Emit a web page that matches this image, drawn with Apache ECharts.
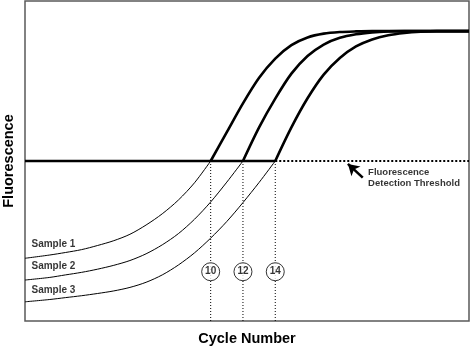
<!DOCTYPE html>
<html>
<head>
<meta charset="utf-8">
<script src="https://cdn.jsdelivr.net/npm/echarts@6/dist/echarts.min.js"></script>
<style>
  html, body { margin: 0; padding: 0; background: #fff; }
  #chart { width: 471px; height: 346px; }
</style>
</head>
<body>
<div id="chart"></div>
<script>
// Amplification curves: fluorescence versus PCR cycle for three samples.
// Each curve is split at the detection threshold: a thin early-phase part
// and a bold part above the threshold.

const threshold = 50;
const thresholdCycles = [10, 12, 14];      // cycle where each curve crosses the threshold
const cycleLabels = ['10', '12', '14'];
const sampleNames = ['Sample 1', 'Sample 2', 'Sample 3'];

// Sample 1
const s1LowCycles = [-1.5, 0, 1, 2, 3, 4, 5, 6, 7, 8, 9, 10];
const s1LowValues = [19.6, 20.6, 21.4, 22.3, 23.6, 25.1, 27.1, 30.0, 33.5, 37.8, 43.2, 50];
const s1HighCycles = [10, 11, 12, 13, 14, 15, 16, 17, 18, 19, 20, 22, 26];
const s1HighValues = [50, 59, 68, 76, 82, 86.2, 88.6, 89.8, 90.3, 90.5, 90.6, 90.6, 90.6];

// Sample 2
const s2LowCycles = [-1.5, 0, 1, 2, 3, 4, 5, 6, 7, 8, 9, 10, 11, 12];
const s2LowValues = [12.8, 13.6, 14.4, 15.2, 16.2, 17.4, 18.9, 21.0, 23.8, 27.3, 31.8, 37.2, 43.4, 50];
const s2HighCycles = [12, 13, 14, 15, 16, 17, 18, 19, 20, 21, 22, 24, 26];
const s2HighValues = [50, 60.5, 69.5, 77.3, 82.8, 86.4, 88.5, 89.6, 90.2, 90.5, 90.6, 90.6, 90.6];

// Sample 3
const s3LowCycles = [-1.5, 0, 1, 2, 3, 4, 5, 6, 7, 8, 9, 10, 11, 12, 13, 14];
const s3LowValues = [6.0, 6.7, 7.3, 7.9, 8.6, 9.4, 10.5, 12.1, 14.4, 17.5, 21.3, 25.9, 31.1, 37.0, 43.3, 50];
const s3HighCycles = [14, 15, 16, 17, 18, 19, 20, 21, 22, 23, 24, 26];
const s3HighValues = [50, 60.5, 69.6, 77, 82.2, 85.8, 88, 89.3, 90, 90.4, 90.6, 90.6];

const X_MIN = -1.5, X_MAX = 26, Y_MIN = 0, Y_MAX = 100;
const FONT = 'Liberation Sans, Arial, sans-serif';
const markerLevel = 15.4;                  // height of the cycle markers on the y scale
const sampleLabelAt = [[-1.1, 24], [-1.1, 17], [-1.1, 9.7]];

const zip = (xs, ys) => xs.map((x, i) => [x, ys[i]]);

function curve(xs, ys, width) {
  return {
    type: 'line', data: zip(xs, ys), smooth: 0.3,
    showSymbol: false, symbol: 'none', silent: true, z: 3,
    lineStyle: { color: '#000', width: width }
  };
}

const series = [
  curve(s1LowCycles, s1LowValues, 1), curve(s1HighCycles, s1HighValues, 2.6),
  curve(s2LowCycles, s2LowValues, 1), curve(s2HighCycles, s2HighValues, 2.6),
  curve(s3LowCycles, s3LowValues, 1), curve(s3HighCycles, s3HighValues, 2.6),
  // threshold: solid up to the last crossing, dotted beyond
  {
    type: 'line', data: [[X_MIN, threshold], [thresholdCycles[2], threshold]],
    symbol: 'none', silent: true, z: 4,
    lineStyle: { color: '#000', width: 2.6 }
  },
  {
    type: 'line', data: [[thresholdCycles[2], threshold], [X_MAX, threshold]],
    symbol: 'none', silent: true, z: 4,
    lineStyle: { color: '#000', width: 2, type: [2, 2] }
  }
];

// dotted drop lines from each crossing to the cycle axis
thresholdCycles.forEach(c => {
  series.push({
    type: 'line', data: [[c, threshold], [c, Y_MIN]],
    symbol: 'none', silent: true, z: 2,
    lineStyle: { color: '#000', width: 1, type: [1, 2] }
  });
});

// circled cycle numbers
series.push({
  type: 'scatter', z: 6, silent: true,
  data: thresholdCycles.map((c, i) => ({ value: [c, markerLevel], name: cycleLabels[i] })),
  symbol: 'circle', symbolSize: 18,
  itemStyle: { color: '#fff', borderColor: '#000', borderWidth: 1 },
  label: {
    show: true, position: 'inside', formatter: p => p.name,
    color: '#000', fontFamily: FONT, fontWeight: 'bold', fontSize: 10
  }
});

// sample names
series.push({
  type: 'scatter', z: 6, silent: true, symbolSize: 0,
  data: sampleNames.map((n, i) => ({ value: sampleLabelAt[i], name: n })),
  label: {
    show: true, position: 'right', distance: 0, formatter: p => p.name,
    color: '#000', fontFamily: FONT, fontWeight: 'bold', fontSize: 10
  }
});

// threshold annotation with arrow
series.push({
  type: 'line', data: [], silent: true,
  markLine: {
    silent: true, symbol: ['none', 'arrow'], symbolSize: [10, 11],
    label: { show: false },
    lineStyle: { color: '#000', width: 2.6, type: 'solid' },
    data: [[{ coord: [19.42, 44.8] }, { coord: [18.5, 49.1] }]]
  }
});
series.push({
  type: 'scatter', z: 6, silent: true, symbolSize: 0,
  data: [{ value: [19.75, 44.6], name: 'Fluorescence\nDetection Threshold' }],
  label: {
    show: true, position: 'right', distance: 0, formatter: p => p.name,
    align: 'left', verticalAlign: 'middle', lineHeight: 11,
    color: '#000', fontFamily: FONT, fontWeight: 'bold', fontSize: 9.5
  }
});

const chart = echarts.init(document.getElementById('chart'), null, { renderer: 'canvas' });
chart.setOption({
  animation: false,
  backgroundColor: '#fff',
  grid: {
    left: 25, right: 2, top: 1, bottom: 25,
    containLabel: false, outerBoundsMode: 'none',
    show: true, borderColor: '#5a5a5a', borderWidth: 1.5, backgroundColor: 'transparent'
  },
  xAxis: {
    type: 'value', min: X_MIN, max: X_MAX,
    name: 'Cycle Number', nameLocation: 'middle', nameGap: 10,
    nameTextStyle: { color: '#000', fontFamily: FONT, fontWeight: 'bold', fontSize: 14.5 },
    axisLine: { show: false }, axisTick: { show: false }, axisLabel: { show: false }, splitLine: { show: false }
  },
  yAxis: {
    type: 'value', min: Y_MIN, max: Y_MAX,
    name: 'Fluorescence', nameLocation: 'middle', nameGap: 9,
    nameTextStyle: { color: '#000', fontFamily: FONT, fontWeight: 'bold', fontSize: 14.5 },
    axisLine: { show: false }, axisTick: { show: false }, axisLabel: { show: false }, splitLine: { show: false }
  },
  series: series
});
</script>
</body>
</html>
